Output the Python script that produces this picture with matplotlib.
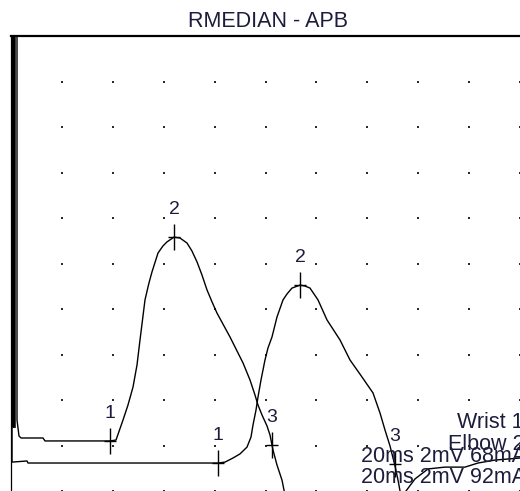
import matplotlib
matplotlib.use("Agg")
import matplotlib.pyplot as plt
import numpy as np

# ---------------- data (time in ms, amplitude in mV) ----------------
title = "RMEDIAN - APB"

wrist_t = [0.236, 0.236, 0.314, 0.393, 1.257, 1.336, 3.890, 4.126, 4.401, 4.597,
           4.794, 4.951, 5.069, 5.265, 5.420, 5.540, 5.776, 5.970, 6.130, 6.405,
           6.640, 6.916, 7.110, 7.309, 7.505, 7.701, 7.900, 8.094, 8.605, 9.116,
           9.391, 9.587, 9.705, 9.863, 10.059, 10.177, 10.295, 10.452, 10.648,
           10.766, 10.880]
wrist_v = [1.0, -16.88, -17.58, -17.67, -17.67, -17.80, -17.80, -17.76, -16.88, -16.22,
           -15.43, -14.46, -13.36, -11.60, -10.86, -10.37, -9.54, -9.23, -9.05, -8.84,
           -8.88, -9.10, -9.45, -9.93, -10.51, -11.16, -11.69, -12.18, -13.23, -14.37,
           -15.12, -15.78, -16.22, -16.66, -17.14, -17.54, -18.20, -18.86, -19.52,
           -20.18, -20.84]

elbow_t = [0.160, 0.160, 0.100, 0.100, 0.100, 0.040, 0.040, 0.629, 0.668, 8.134,
           8.409, 8.723, 8.998, 9.273, 9.430, 9.509, 9.627, 9.705, 9.823, 9.980,
           10.098, 10.255, 10.452, 10.688, 10.845, 11.041, 11.356, 11.552, 11.748,
           12.063, 12.416, 12.927, 13.320, 13.792, 14.224, 14.499, 14.696, 14.892,
           15.089, 15.207, 15.286, 15.364, 15.440, 15.520, 15.874, 16.385, 17.050,
           17.839, 18.350, 19.020, 20.0]
elbow_v = [-17.20, 1.0, 1.0, -17.20, 1.0, 1.0, -18.73, -18.68, -18.77, -18.77,
           -18.73, -18.55, -18.37, -18.07, -17.63, -17.10, -16.44, -15.87, -15.12, -14.24,
           -13.71, -13.23, -12.35, -11.60, -11.34, -11.08, -10.95, -10.99, -11.08,
           -11.60, -12.48, -13.36, -14.24, -14.99, -15.69, -16.57, -17.32, -18.02,
           -18.90, -19.52, -20.00, -20.40, -20.40, -20.00, -19.47, -19.03, -18.95,
           -18.95, -18.77, -18.64, -18.55]

marker_labels = ["1", "2", "3"]
wrist_mark_t = [3.890, 6.405, 10.260]
wrist_mark_v = [-17.80, -8.84, -17.98]
elbow_mark_t = [8.134, 11.356, 15.070]
elbow_mark_v = [-18.77, -10.95, -18.81]

info_lines = ["Wrist 1", "Elbow 2", "20ms 2mV 68mA", "20ms 2mV 92mA"]

grid_t = np.arange(2, 21, 2)
grid_v = -np.arange(2, 21, 2)

# ---------------- figure ----------------
W, H = 520, 491
fig = plt.figure(figsize=(W / 100, H / 100), dpi=100)
plt.rcParams['font.family'] = ['Liberation Sans', 'DejaVu Sans']
ax = fig.add_axes([11 / W, 0, 1 - 11 / W, 455 / H])
ax.set_xlim(0, 20)
ax.set_ylim(-20, 0)
ax.set_xticks([])
ax.set_yticks([])
for s in ["right", "bottom"]:
    ax.spines[s].set_visible(False)
ax.spines["top"].set_linewidth(1.6)
ax.spines["left"].set_linewidth(0.9)

gx, gy = np.meshgrid(grid_t, grid_v)
ax.scatter(gx.ravel(), gy.ravel(), s=3, marker="s", color="#2a2a2a",
           linewidths=0, zorder=1)

line_kw = dict(color="black", lw=1.0, zorder=3)
ax.plot(wrist_t, wrist_v, **line_kw)
ax.plot(elbow_t, elbow_v, **line_kw)

label_color = "#1c1c3c"
for mt, mv in ((wrist_mark_t, wrist_mark_v), (elbow_mark_t, elbow_mark_v)):
    ax.plot(mt, mv, linestyle="none", marker="|", markersize=18.5,
            mew=1.0, color="black", zorder=4)
    ax.plot(mt, mv, linestyle="none", marker="_", markersize=9,
            mew=1.0, color="black", zorder=4)
    for lab, t, v in zip(marker_labels, mt, mv):
        ax.annotate(lab, (t, v), xytext=(0, 20), textcoords="offset points",
                    ha="center", va="center", fontsize=14, color=label_color,
                    zorder=5)

fig.text(268 / W, 1 - 27 / H, title, ha="center", va="baseline",
         fontsize=15.5, color=label_color)

info_x = [457, 448, 361, 361]
info_y = [428, 450, 462, 483]
for txt, x, y in zip(info_lines, info_x, info_y):
    fig.text(x / W, 1 - y / H, txt, ha="left", va="baseline", fontsize=15.5,
             color=label_color)

fig.savefig("out.png", dpi=100)
